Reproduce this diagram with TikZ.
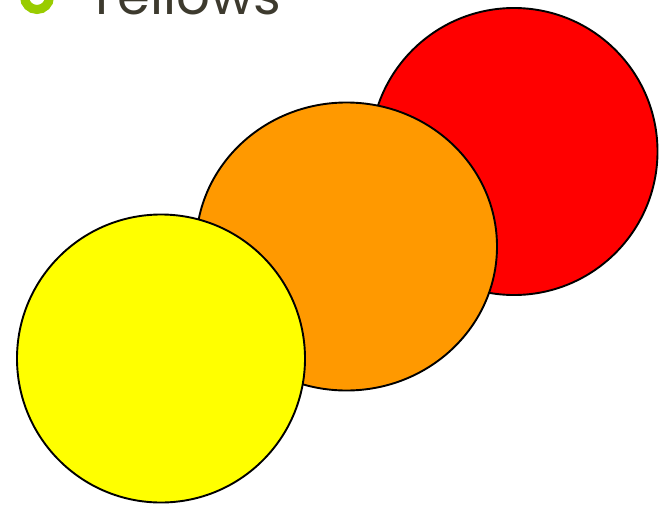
\documentclass[tikz,border=0pt]{standalone}
\usepackage{fontspec}
\setmainfont{Poppins}
\definecolor{txtgray}{HTML}{3D3A2E}
\definecolor{bulletgreen}{HTML}{99CC00}
\definecolor{cred}{HTML}{FF0000}
\definecolor{corange}{HTML}{FF9900}
\definecolor{cyellow}{HTML}{FFFF00}
\tikzset{disc/.style={draw=black, line width=1.9pt}}
\begin{document}
\begin{tikzpicture}[x=1pt,y=-1pt]
\useasboundingbox (0,0) rectangle (663,506);
\begin{scope}
\clip (0,0) rectangle (663,506);
\node[circle, draw=bulletgreen, line width=9pt, minimum size=25pt, inner sep=0pt] (bullet) at (37,-3) {};
\node[anchor=base west, inner sep=0pt, text=txtgray, font=\fontsize{53}{53}\selectfont] (title) at (86,14) {Yellows};
\end{scope}
\fill[cred, disc] (514,151.5) circle [radius=143.5];
\path (514,151.5) node[inner sep=0pt] (red) {};
\fill[corange, disc] (346.5,246.5) ellipse [x radius=150.5, y radius=144];
\path (346.5,246.5) node[inner sep=0pt] (orange) {};
\fill[cyellow, disc] (161,358.5) circle [radius=144];
\path (161,358.5) node[inner sep=0pt] (yellow) {};
\end{tikzpicture}
\end{document}
